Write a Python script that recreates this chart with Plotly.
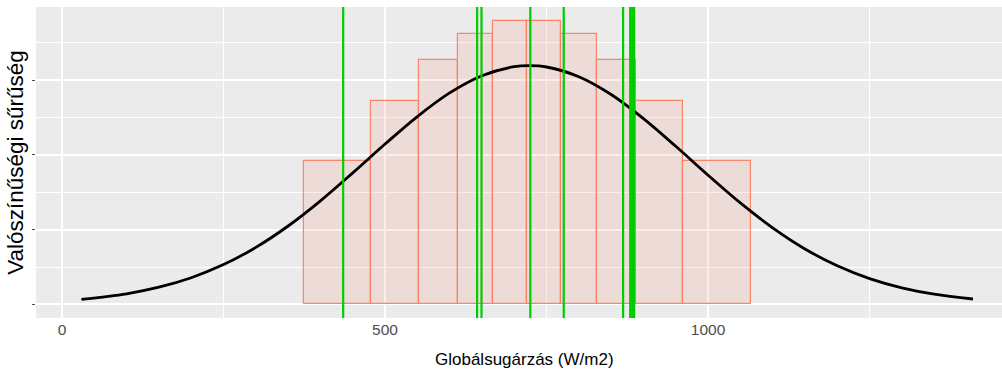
import plotly.graph_objects as go

# Histogram (variable-width bins), density values
bin_edges = [373.8, 478.6, 551.9, 612.3, 667.6, 720.3, 771.8, 827.6, 888.6, 961.9, 1066.1]
bin_density = [0.000962, 0.001363, 0.001635, 0.001809, 0.001896,
               0.001896, 0.001809, 0.001635, 0.001363, 0.000962]

# Density curve sample points
curve_x = [30, 100, 150, 200, 250, 300, 350, 400, 450, 500, 550, 600, 650, 700, 723,
           750, 800, 850, 900, 950, 1000, 1050, 1100, 1150, 1200, 1250, 1300, 1350, 1410]
curve_y = [0.0000342, 0.0000715, 0.0001154, 0.0001789, 0.0002665, 0.0003815, 0.0005245,
           0.0006927, 0.0008793, 0.001072, 0.001256, 0.001414, 0.001529, 0.001589, 0.001596,
           0.001587, 0.001522, 0.001403, 0.001242, 0.001057, 0.000864, 0.0006784, 0.000512,
           0.000371, 0.0002586, 0.000173, 0.0001113, 0.0000687, 0.0000366]

# Vertical green reference lines
green_x = [435.2, 642.5, 649.3, 724.9, 776.6, 868.5, 879.5, 882.5, 885.5]

x_ticks = [0, 500, 1000]
x_tick_labels = ["0", "500", "1000"]
y_ticks = [0, 0.0005, 0.001, 0.0015]
x_title = "Globálsugárzás (W/m2)"
y_title = "Valószínűségi sűrűség"
x_range = [-40.3, 1455]

centers = [(a + b) / 2 for a, b in zip(bin_edges[:-1], bin_edges[1:])]
widths = [b - a for a, b in zip(bin_edges[:-1], bin_edges[1:])]

fig = go.Figure()
fig.add_trace(go.Bar(
    x=centers, y=bin_density, width=widths, base=0,
    marker=dict(color="rgba(250,128,100,0.15)",
                line=dict(color="rgba(250,128,100,0.95)", width=1.2)),
    hoverinfo="skip", showlegend=False,
))
fig.add_trace(go.Scatter(
    x=curve_x, y=curve_y, mode="lines",
    line=dict(color="black", width=2.8, shape="spline", smoothing=1.0),
    showlegend=False,
))
for gx in green_x:
    fig.add_vline(x=gx, line=dict(color="#00CC00", width=2.2), layer="above")

tick_font = dict(family="Liberation Sans, Arial", size=15.5, color="#4D4D4D")
title_font = dict(family="Liberation Sans, Arial", size=17, color="black")

fig.add_annotation(
    text=x_title, xref="paper", yref="paper", x=0.506, y=0,
    yshift=-41, xanchor="center", yanchor="middle",
    showarrow=False, font=title_font,
)

fig.update_layout(
    width=1002, height=375,
    margin=dict(l=36, r=0, t=7, b=57),
    paper_bgcolor="white",
    plot_bgcolor="#EBEBEB",
    bargap=0,
    xaxis=dict(
        range=x_range,
        tickvals=x_ticks, ticktext=x_tick_labels,
        ticks="", tickfont=tick_font,
        showgrid=True, gridcolor="white", gridwidth=2,
        minor=dict(dtick=250, tick0=250, showgrid=True, gridcolor="white", gridwidth=1.2),
        zeroline=False, showline=False,
        automargin=False,
    ),
    xaxis2=dict(
        range=x_range, overlaying="x", anchor="y", side="bottom",
        tickvals=x_ticks, showticklabels=False,
        ticks="outside", ticklen=4, tickwidth=1, tickcolor="#4D4D4D",
        showgrid=False, zeroline=False, showline=False, automargin=False,
    ),
    yaxis=dict(
        range=[-0.0000904, 0.001988],
        tickvals=y_ticks, showticklabels=False,
        ticks="outside", ticklen=3, tickwidth=1, tickcolor="#4D4D4D",
        showgrid=True, gridcolor="white", gridwidth=2,
        minor=dict(dtick=0.0005, tick0=0.00025, showgrid=True, gridcolor="white", gridwidth=1.2),
        zeroline=False, showline=False,
        title=dict(text=y_title,
                   font=dict(family="Liberation Sans, Arial", size=22.5, color="black"),
                   standoff=2),
        automargin=False,
    ),
)

fig.write_html("out.html")
